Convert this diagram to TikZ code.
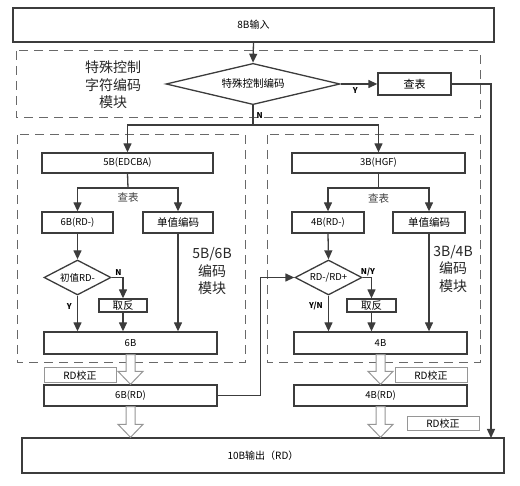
\documentclass[tikz,border=0pt]{standalone}
\usepackage{fontspec}
\setmainfont{Noto Sans CJK SC}
\usepackage{xcolor}
\usepackage{tikz}
\usetikzlibrary{calc,arrows.meta,shapes.geometric}
\definecolor{linegray}{RGB}{60, 60, 60}
\definecolor{dashgray}{RGB}{105, 105, 105}
\definecolor{notegray}{RGB}{150, 150, 150}

\tikzset{
  box/.style={draw=linegray, line width=1.3pt, fill=white, inner sep=0pt,
    font=\fontsize{9.5}{10}\selectfont},
  cjk/.style={font=\fontsize{10.5}{11}\selectfont},
  decision/.style={diamond, draw=linegray, line width=1.3pt, fill=white, inner sep=0pt,
    aspect=2, font=\fontsize{9.5}{10}\selectfont},
  notebox/.style={draw=notegray, line width=1pt, fill=white, inner sep=0pt,
    minimum width=72pt, minimum height=15pt, font=\fontsize{10}{10}\selectfont},
  modtitle/.style={align=center, inner sep=0pt, text=black!85,
    font=\fontsize{14}{17.5}\selectfont},
  yn/.style={inner sep=1pt, font=\bfseries\fontsize{8}{8}\selectfont},
  lutlabel/.style={inner sep=0pt, text=black!75, font=\fontsize{10.5}{11}\selectfont},
  link/.style={draw=linegray, line width=1.3pt, -{Triangle[length=9pt,width=8pt]}},
  line/.style={draw=linegray, line width=1.3pt},
  module/.style={draw=dashgray, line width=1pt, dash pattern=on 9pt off 6pt},
  hollow/.style={draw=notegray, line width=1pt, fill=white}
}
\newcommand{\fatarrow}[2]{%
  \path[hollow] ($(#1)+(-4.5,0)$) -- ($(#2)+(-4.5,-13)$) -- ($(#2)+(-12.5,-13)$)
    -- (#2) -- ($(#2)+(12.5,-13)$) -- ($(#2)+(4.5,-13)$) -- ($(#1)+(4.5,0)$) -- cycle;}

\begin{document}
\begin{tikzpicture}[x=1pt, y=-1pt]
    \useasboundingbox (0,0) rectangle (520,486);

    % Module frames
    \draw[module] (16,51) rectangle (480,118);
    \draw[module] (17,135) rectangle (245,363);
    \draw[module] (267,135) rectangle (480,363);

    % Input and special control characters
    \node[box, font=\fontsize{10}{10}\selectfont, minimum width=481pt, minimum height=34pt] (in8) at (253.5,25) {8B输入};
    \node[modtitle] (spectitle) at (113,85) {特殊控制\\字符编码\\模块};
    \node[decision, font=\fontsize{10.5}{11}\selectfont, minimum width=174pt, minimum height=37pt] (spec) at (253,84) {特殊控制编码};
    \node[box, font=\fontsize{11}{11}\selectfont, minimum width=73pt, minimum height=22pt] (lut) at (414.5,84) {查表};
    \coordinate (split) at (253,125);
    \coordinate (drop) at (491,438);

    % 5B/6B branch
    \node[box, minimum width=171pt, minimum height=20pt] (b5) at (127.5,163) {5B(EDCBA)};
    \coordinate (fork5) at (128,188);
    \node[lutlabel] (lut5) at (128,198) {查表};
    \node[box, minimum width=71pt, minimum height=21pt] (b6neg) at (77.5,222.5) {6B(RD-)};
    \node[box, cjk, minimum width=70pt, minimum height=21pt] (uni6) at (178,222.5) {单值编码};
    \node[decision, minimum width=67pt, minimum height=35pt] (init6) at (77.5,277.5) {初值RD-};
    \node[box, cjk, minimum width=48pt, minimum height=13pt] (inv6) at (123,305.5) {取反};
    \node[box, minimum width=173pt, minimum height=22pt] (out6) at (130.5,343) {6B};
    \node[notebox] (fix6) at (80,375.5) {RD校正};
    \node[box, minimum width=173pt, minimum height=21pt] (rd6) at (130.5,395.5) {6B(RD)};
    \node[modtitle] (title56) at (212,271.5) {5B/6B\\编码\\模块};

    % 3B/4B branch
    \node[box, minimum width=173pt, minimum height=20pt] (b3) at (378.5,163) {3B(HGF)};
    \coordinate (fork3) at (378.5,188);
    \node[lutlabel] (lut3) at (378.5,199) {查表};
    \node[box, minimum width=72pt, minimum height=21pt] (b4neg) at (328,222.5) {4B(RD-)};
    \node[box, cjk, minimum width=72pt, minimum height=21pt] (uni4) at (429,222.5) {单值编码};
    \node[decision, minimum width=67pt, minimum height=35pt] (init4) at (328.5,277.5) {RD-/RD+};
    \node[box, cjk, minimum width=49pt, minimum height=13pt] (inv4) at (371.5,305.5) {取反};
    \node[box, minimum width=173pt, minimum height=22pt] (out4) at (380.5,343) {4B};
    \node[notebox] (fix4) at (431,375.5) {RD校正};
    \node[box, minimum width=173pt, minimum height=21pt] (rd4) at (380.5,395.5) {4B(RD)};
    \node[modtitle] (title34) at (453,269) {3B/4B\\编码\\模块};

    % Output
    \node[notebox, minimum height=14pt] (fix10) at (443,424) {RD校正};
    \node[box, font=\fontsize{10}{10}\selectfont, minimum width=482pt, minimum height=35pt] (out10) at (263,455.5) {10B输出（RD）};

    % Connectors, top part
    \draw[link] (in8.south) -- (spec.north);
    \draw[link] (spec.east) -- (lut.west) node[yn, pos=0.4, below=2pt] {Y};
    \draw[link] (lut.east) -| (drop);
    \draw[line] (spec.south) -- (split) node[yn, pos=0.5, right=2pt] {N};
    \draw[link] (split) -| (b5.north);
    \draw[link] (split) -| (b3.north);

    % Connectors, 5B/6B
    \draw[line] (b5.south) -- (fork5);
    \draw[link] (fork5) -| (b6neg.north);
    \draw[link] (fork5) -| (uni6.north);
    \draw[link] (b6neg.south) -- (init6.north);
    \draw[link] (init6.east) -| (inv6.north) node[yn, pos=0.3, above=0pt] {N};
    \draw[link] (init6.south) -- (init6.south |- out6.north) node[yn, pos=0.3, left=4pt] {Y};
    \draw[link] (inv6.south) -- (inv6.south |- out6.north);
    \draw[link] (uni6.south) -- (uni6.south |- out6.north);
    \draw[link] (rd6.east) -- ++(43,0) |- (init4.west);

    % Connectors, 3B/4B
    \draw[line] (b3.south) -- (fork3);
    \draw[link] (fork3) -| (b4neg.north);
    \draw[link] (fork3) -| (uni4.north);
    \draw[link] (b4neg.south) -- (init4.north);
    \draw[link] (init4.east) -| (inv4.north) node[yn, pos=0.3, above=0pt] {N/Y};
    \draw[link] (init4.south) -- (init4.south |- out4.north) node[yn, pos=0.3, left=4pt] {Y/N};
    \draw[link] (inv4.south) -- (inv4.south |- out4.north);
    \draw[link] (uni4.south) -- (uni4.south |- out4.north);

    % Hollow arrows for RD correction
    \fatarrow{out6.south}{rd6.north}
    \fatarrow{rd6.south}{rd6.south |- out10.north}
    \fatarrow{out4.south}{rd4.north}
    \fatarrow{rd4.south}{rd4.south |- out10.north}
\end{tikzpicture}
\end{document}
